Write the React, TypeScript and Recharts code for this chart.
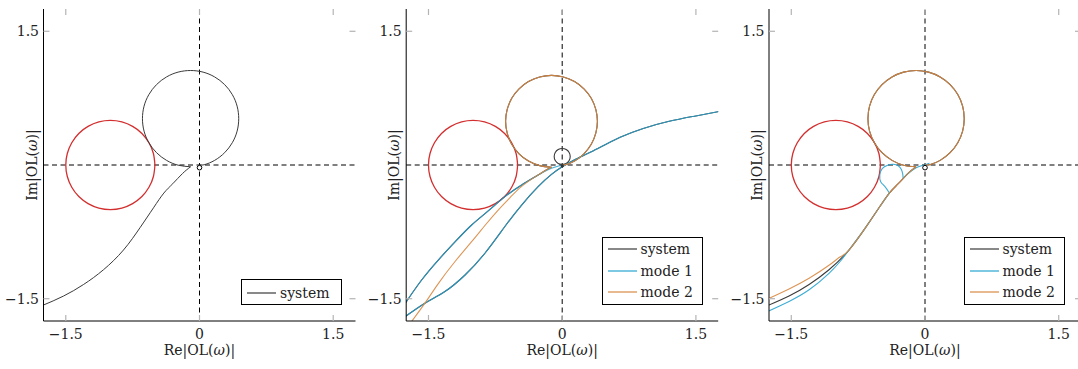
import React from 'react';
import { LineChart, Line, XAxis, YAxis, ReferenceLine, ReferenceDot, Legend, Label } from 'recharts';

type Pt = [number, number];

const AXIS_DOMAIN: [number, number] = [-1.75, 1.75];
const X_TICKS = [-1.5, 0, 1.5];
const Y_TICKS = [-1.5, 1.5];
const TICK_VALUES = [-1.5, 0, 1.5];
const TICK_LABELS = ['\u22121.5', '0', '1.5'];
const X_LABEL_PREFIX = 'Re|OL(';
const Y_LABEL_PREFIX = 'Im|OL(';
const LABEL_OMEGA = '\u03c9';
const LABEL_SUFFIX = ')|';

const SERIES_NAMES = ['system', 'mode 1', 'mode 2'];
const SERIES_COLORS = ['#3a3a3a', '#27a3cf', '#d98a42'];
const CRITICAL_COLOR = '#d32f2f';

// critical circle around -1
const criticalCircle: Pt[] = [
  [-0.5, 0], [-0.517, 0.129], [-0.567, 0.25], [-0.646, 0.354], [-0.75, 0.433], [-0.871, 0.483], [-1, 0.5],
  [-1.129, 0.483], [-1.25, 0.433], [-1.354, 0.354], [-1.433, 0.25], [-1.483, 0.129], [-1.5, 0],
  [-1.483, -0.129], [-1.433, -0.25], [-1.354, -0.354], [-1.25, -0.433], [-1.129, -0.483], [-1, -0.5],
  [-0.871, -0.483], [-0.75, -0.433], [-0.646, -0.354], [-0.567, -0.25], [-0.517, -0.129], [-0.5, 0],
];

// resonance loop (panels 1 and 3)
const loopA: Pt[] = [
  [-0.1, -0.02], [-0.24, -0.002], [-0.37, 0.052], [-0.482, 0.138], [-0.568, 0.25], [-0.622, 0.38],
  [-0.64, 0.52], [-0.622, 0.66], [-0.568, 0.79], [-0.482, 0.902], [-0.37, 0.988], [-0.24, 1.042],
  [-0.1, 1.06], [0.04, 1.042], [0.17, 0.988], [0.282, 0.902], [0.368, 0.79], [0.422, 0.66],
  [0.44, 0.52], [0.422, 0.38], [0.368, 0.25], [0.282, 0.138], [0.17, 0.052], [0.06, 0.005], [0, 0],
];

// resonance loop (panel 2)
const loopB: Pt[] = [
  [-0.12, -0.025], [-0.253, -0.007], [-0.378, 0.044], [-0.484, 0.126], [-0.566, 0.232], [-0.617, 0.357],
  [-0.635, 0.49], [-0.617, 0.623], [-0.566, 0.748], [-0.484, 0.854], [-0.378, 0.936], [-0.253, 0.987],
  [-0.12, 1.005], [0.013, 0.987], [0.138, 0.936], [0.244, 0.854], [0.326, 0.748], [0.377, 0.623],
  [0.395, 0.49], [0.377, 0.357], [0.326, 0.232], [0.244, 0.126], [0.138, 0.044], [0.04, 0.004], [0, 0],
];

// small loop at the origin (panel 2, system)
const smallLoop: Pt[] = [
  [0, 0.005], [0.045, 0.017], [0.078, 0.05], [0.09, 0.095], [0.078, 0.14], [0.045, 0.173], [0, 0.185],
  [-0.045, 0.173], [-0.078, 0.14], [-0.09, 0.095], [-0.078, 0.05], [-0.045, 0.017], [0, 0.005],
];

// panels 1 & 3: branch from lower-left up to the cusp
const systemStart: Pt[] = [[-1.76, -1.575], [-1.525, -1.47], [-1.3, -1.34], [-1.077, -1.175]];
const mode2Start3: Pt[] = [[-1.76, -1.5], [-1.525, -1.39], [-1.3, -1.27], [-1.077, -1.125], [-0.95, -1.03]];
const mode1Start3: Pt[] = [[-1.76, -1.64], [-1.525, -1.53], [-1.3, -1.4], [-1.077, -1.215], [-0.95, -1.08]];
const commonMid: Pt[] = [[-0.853, -0.954], [-0.665, -0.7], [-0.516, -0.48], [-0.4, -0.315]];
const commonEnd: Pt[] = [[-0.3, -0.21], [-0.19, -0.095], [-0.1, -0.02]];
const mode1Curl3: Pt[] = [
  [-0.4, -0.315], [-0.449, -0.243], [-0.497, -0.187], [-0.507, -0.112], [-0.48, -0.04], [-0.42, -0.002],
  [-0.356, 0.008], [-0.3, -0.008], [-0.265, -0.05], [-0.25, -0.1], [-0.245, -0.15],
];
const mode1End3: Pt[] = [[-0.245, -0.15], [-0.19, -0.095], [-0.1, -0.03], [-0.03, -0.005], [0.05, 0.02]];

// panel 2 branches
const upperBranch2: Pt[] = [
  [-1.76, -1.55], [-1.577, -1.29], [-1.39, -1.066], [-1.2, -0.86], [-1.016, -0.673], [-0.83, -0.515],
  [-0.643, -0.355], [-0.455, -0.224], [-0.27, -0.112],
];
const upperToOrigin2: Pt[] = [[-0.12, -0.037], [0, 0]];
const upperToCusp2: Pt[] = [[-0.17, -0.05], [-0.12, -0.025]];
const lowerBranch2: Pt[] = [
  [-1.76, -1.7], [-1.54, -1.55], [-1.316, -1.42], [-1.09, -1.234], [-0.867, -0.99], [-0.643, -0.69],
  [-0.455, -0.449], [-0.27, -0.243], [-0.12, -0.105], [0, -0.02], [0.15, 0.065], [0.4, 0.185],
  [0.65, 0.31], [0.909, 0.41], [1.2, 0.49], [1.47, 0.545], [1.76, 0.6],
];
const mode2Branch2: Pt[] = [
  [-1.7, -1.77], [-1.54, -1.55], [-1.39, -1.33], [-1.2, -1.08], [-1.016, -0.86], [-0.86, -0.67],
  [-0.718, -0.505], [-0.58, -0.36], [-0.455, -0.24], [-0.3, -0.13], [-0.17, -0.05], [-0.12, -0.025],
];

type Series = { segs: Pt[][]; color: string; width: number; opacity?: number };

const toPts = (a: Pt[]) => a.map(([x, y]) => ({ x, y }));

const FONT = "'DejaVu Serif', serif";
const PLOT_TOP = 9;
const PLOT_BOTTOM = 321;
const TICK_COLOR = '#b4b4b4';
const YAXIS_W = 40;

type PanelProps = {
  left: number;
  width: number;
  mLeft: number;
  mRight: number;
  series: Series[];
  legendCount: number;
  originMarker: 'ring' | 'dot';
};

function Panel({ left, width, mLeft, mRight, series, legendCount, originMarker }: PanelProps) {
  const plotLeft = mLeft + YAXIS_W;
  const plotRight = width - mRight;
  const plotCenterX = (plotLeft + plotRight) / 2;
  const plotCenterY = (PLOT_TOP + PLOT_BOTTOM) / 2;
  const label = (v: number) => TICK_LABELS[TICK_VALUES.indexOf(v)] ?? String(v);

  const XTick = (p: any) => (
    <g>
      <line x1={p.x} x2={p.x} y1={PLOT_BOTTOM} y2={PLOT_BOTTOM - 6} stroke={TICK_COLOR} strokeWidth={1.2} />
      <line x1={p.x} x2={p.x} y1={PLOT_TOP} y2={PLOT_TOP + 6} stroke={TICK_COLOR} strokeWidth={1.2} />
      <text x={p.x} y={339} textAnchor="middle" fontFamily={FONT} fontSize={14} fill="#222">
        {label(p.payload.value)}
      </text>
    </g>
  );
  const YTick = (p: any) => (
    <g>
      <line x1={plotLeft} x2={plotLeft + 6} y1={p.y} y2={p.y} stroke={TICK_COLOR} strokeWidth={1.2} />
      <line x1={plotRight - 6} x2={plotRight} y1={p.y} y2={p.y} stroke={TICK_COLOR} strokeWidth={1.2} />
      <text x={plotLeft - 4.5} y={p.y + 5} textAnchor="end" fontFamily={FONT} fontSize={14} fill="#222">
        {label(p.payload.value)}
      </text>
    </g>
  );

  const legendHeight = legendCount === 1 ? 26 : 68.6;
  const legendContent = () => (
    <div
      style={{
        boxSizing: 'border-box',
        width: 101,
        height: legendHeight,
        border: '1px solid #000',
        background: '#fff',
        padding: legendCount === 1 ? '1.6px 0 0 5px' : '0.9px 0 0 5px',
        fontFamily: FONT,
        fontSize: 14,
        color: '#222',
      }}
    >
      {SERIES_NAMES.slice(0, legendCount).map((n, i) => (
        <div key={n} style={{ display: 'flex', alignItems: 'center', height: 21.4, whiteSpace: 'nowrap' }}>
          <svg width={29} height={4} style={{ display: 'block' }}>
            <line x1={0} x2={29} y1={2} y2={2} stroke={SERIES_COLORS[i]} strokeWidth={1.2} />
          </svg>
          <span style={{ marginLeft: 4, lineHeight: '16px' }}>{n}</span>
        </div>
      ))}
    </div>
  );

  const lines: React.ReactNode[] = [];
  series.forEach((s, i) =>
    s.segs.forEach((seg, j) =>
      lines.push(
        <Line
          key={`${i}-${j}`}
          data={toPts(seg)}
          dataKey="y"
          type="natural"
          stroke={s.color}
          strokeWidth={s.width}
          strokeOpacity={s.opacity ?? 1}
          dot={false}
          activeDot={false}
          legendType="none"
          isAnimationActive={false}
        />
      )
    )
  );

  return (
    <div style={{ position: 'absolute', left, top: 0, width, height: 369 }}>
      <LineChart width={width} height={369} margin={{ top: PLOT_TOP, right: mRight, bottom: 0, left: mLeft }}>
        <XAxis
          type="number"
          dataKey="x"
          domain={AXIS_DOMAIN}
          ticks={X_TICKS}
          interval={0}
          allowDataOverflow
          height={48}
          tickLine={false}
          tick={XTick}
          axisLine={{ stroke: '#000', strokeWidth: 1 }}
        >
          <Label
            content={() => (
              <text x={plotCenterX} y={355} textAnchor="middle" fontFamily={FONT} fontSize={14} fill="#222">
                {X_LABEL_PREFIX}
                <tspan fontStyle="italic">{LABEL_OMEGA}</tspan>
                {LABEL_SUFFIX}
              </text>
            )}
          />
        </XAxis>
        <XAxis
          xAxisId="top"
          orientation="top"
          type="number"
          dataKey="x"
          domain={AXIS_DOMAIN}
          allowDataOverflow
          height={0}
          tick={false}
          tickLine={false}
          axisLine={{ stroke: '#000', strokeWidth: 1 }}
        />
        <YAxis
          type="number"
          domain={AXIS_DOMAIN}
          ticks={Y_TICKS}
          interval={0}
          allowDataOverflow
          width={YAXIS_W}
          tickLine={false}
          tick={YTick}
          axisLine={{ stroke: '#000', strokeWidth: 1 }}
        >
          <Label
            content={() => (
              <text
                transform={`translate(${plotLeft - 6.8},${plotCenterY}) rotate(-90)`}
                x={0}
                y={0}
                textAnchor="middle"
                fontFamily={FONT}
                fontSize={14}
                fill="#222"
              >
                {Y_LABEL_PREFIX}
                <tspan fontStyle="italic">{LABEL_OMEGA}</tspan>
                {LABEL_SUFFIX}
              </text>
            )}
          />
        </YAxis>
        <YAxis
          yAxisId="right"
          orientation="right"
          type="number"
          domain={AXIS_DOMAIN}
          allowDataOverflow
          width={0}
          tick={false}
          tickLine={false}
          axisLine={{ stroke: '#000', strokeWidth: 1 }}
        />
        <ReferenceLine x={0} stroke="#000" strokeWidth={1} strokeDasharray="5 3.5" />
        <ReferenceLine y={0} stroke="#000" strokeWidth={1} strokeDasharray="5 3.5" />
        <Line
          data={toPts(criticalCircle)}
          dataKey="y"
          type="natural"
          stroke={CRITICAL_COLOR}
          strokeWidth={1.3}
          dot={false}
          activeDot={false}
          legendType="none"
          isAnimationActive={false}
        />
        {lines}
        {originMarker === 'ring' ? (
          <ReferenceDot x={0} y={-0.03} r={2.3} fill="#fff" stroke="#000" strokeWidth={1} />
        ) : (
          <ReferenceDot x={0} y={-0.01} r={1.4} fill="#333" stroke="#333" strokeWidth={0.5} />
        )}
        <Legend
          layout="vertical"
          align="center"
          verticalAlign="middle"
          content={legendContent}
          wrapperStyle={{
            left: 239.5 + (legendCount === 1 ? 1.5 : 0),
            top: legendCount === 1 ? 279.3 : 236.7,
            width: 101,
            height: legendHeight,
          }}
        />
      </LineChart>
    </div>
  );
}

const panel1Series: Series[] = [
  { segs: [[...systemStart, ...commonMid, ...commonEnd], loopA], color: SERIES_COLORS[0], width: 1 },
];

const panel2Series: Series[] = [
  { segs: [[...upperBranch2, ...upperToCusp2], loopB, smallLoop, lowerBranch2], color: SERIES_COLORS[0], width: 1.1 },
  { segs: [[...upperBranch2, ...upperToOrigin2], lowerBranch2], color: SERIES_COLORS[1], width: 1.1, opacity: 0.85 },
  { segs: [mode2Branch2, loopB], color: SERIES_COLORS[2], width: 1.1, opacity: 0.9 },
];

const panel3Series: Series[] = [
  { segs: [[...systemStart, ...commonMid, ...commonEnd], loopA], color: SERIES_COLORS[0], width: 1.1 },
  { segs: [[...mode1Start3, ...commonMid], mode1Curl3, mode1End3], color: SERIES_COLORS[1], width: 1.1, opacity: 0.9 },
  { segs: [[...mode2Start3, ...commonMid, ...commonEnd], loopA], color: SERIES_COLORS[2], width: 1.1, opacity: 0.9 },
];

export default function App() {
  return (
    <div
      style={{
        position: 'absolute',
        left: 0,
        top: 0,
        width: 1078,
        height: 369,
        overflow: 'hidden',
        background: '#fff',
        fontFamily: FONT,
      }}
    >
      <Panel left={0} width={360} mLeft={3.5} mRight={4.5} series={panel1Series} legendCount={1} originMarker="ring" />
      <Panel left={362} width={362} mLeft={4.2} mRight={5.8} series={panel2Series} legendCount={3} originMarker="dot" />
      <Panel left={724} width={362} mLeft={5} mRight={5} series={panel3Series} legendCount={3} originMarker="ring" />
    </div>
  );
}
